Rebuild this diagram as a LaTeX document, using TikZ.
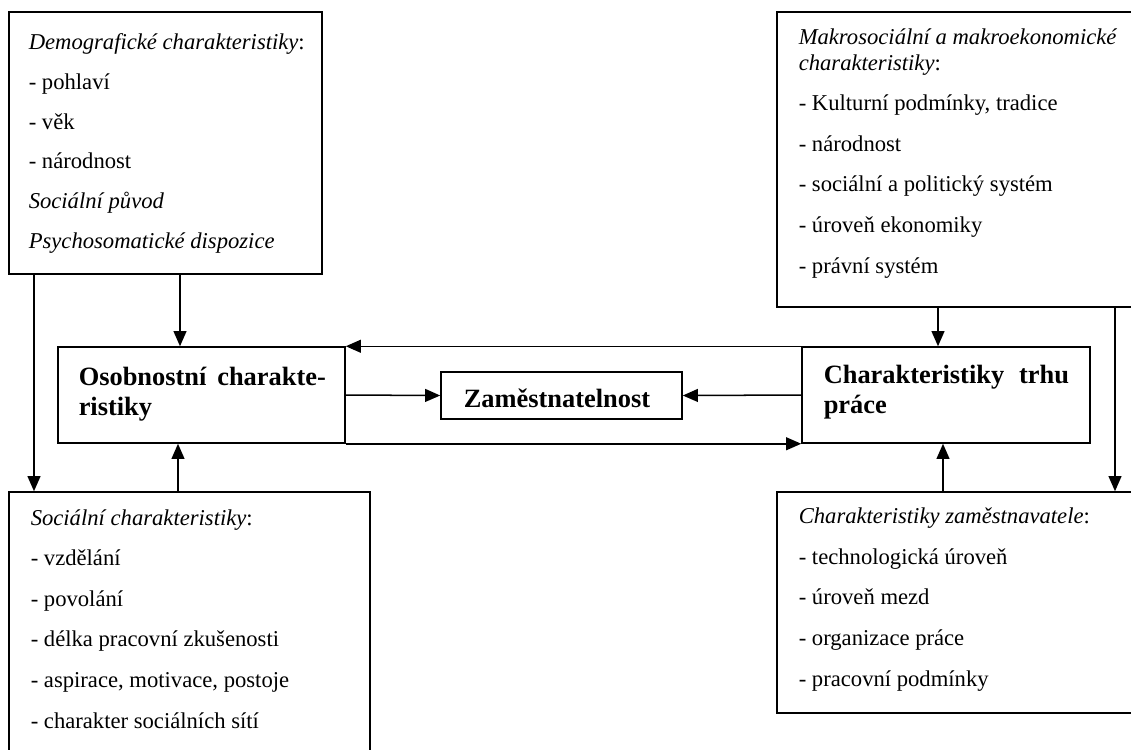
\documentclass[tikz,border=0pt]{standalone}
\usepackage{fontspec}
\setmainfont{Liberation Serif}
\usetikzlibrary{arrows.meta,fit}
\tikzset{
	ramec/.style={draw,inner sep=0pt,fit={#1}},
	seznam/.style={anchor=base west,inner sep=0pt,align=left,font=\fontsize{12}{13.8}\selectfont},
	hlavni/.style={anchor=base west,inner sep=0pt,align=left,text width=#1,font=\fontsize{14}{15.9}\selectfont\bfseries},
}
\begin{document}
\begin{tikzpicture}[x=0.53pt,y=-0.53pt,line width=0.8pt,>={Triangle[length=8pt,width=6.8pt]}]
	\useasboundingbox (0,0) rectangle (1131,749);
	\clip (0,0) rectangle (1131,749);
	% ramecky
	\node[ramec={(9,12) (322,274)}] (demo) {};
	\node[ramec={(777,12) (1140,307)}] (makro) {};
	\node[ramec={(58,347) (345,443)}] (osob) {};
	\node[ramec={(441,372) (682,419)}] (zam) {};
	\node[ramec={(802,347) (1090,443)}] (trh) {};
	\node[ramec={(9,492) (370,760)}] (soc) {};
	\node[ramec={(777,492) (1140,713)}] (zamest) {};
	% texty (seznam: poloha = uctaij posledniho radku)
	\path
	(28,248) node[seznam] (demotxt) {\textit{Demografické charakteristiky}:\\[7.2pt]
		- pohlaví\\[7.2pt] - věk\\[7.2pt] - národnost\\[7.2pt]
		\textit{Sociální původ}\\[7.2pt] \textit{Psychosomatické dispozice}}
	(798,273) node[seznam] (makrotxt) {\textit{Makrosociální a makroekonomické}\\
		\textit{charakteristiky}:\\[7.7pt] - Kulturní podmínky, tradice\\[7.7pt]
		- národnost\\[7.7pt] - sociální a politický systém\\[7.7pt]
		- úroveň ekonomiky\\[7.7pt] - právní systém}
	(30,728) node[seznam] (soctxt) {\textit{Sociální charakteristiky}:\\[7.7pt]
		- vzdělání\\[7.7pt] - povolání\\[7.7pt] - délka pracovní zkušenosti\\[7.7pt]
		- aspirace, motivace, postoje\\[7.7pt] - charakter sociálních sítí}
	(798,686) node[seznam] (zamesttxt) {\textit{Charakteristiky zaměstnavatele}:\\[7.7pt]
		- technologická úroveň\\[7.7pt] - úroveň mezd\\[7.7pt]
		- organizace práce\\[7.7pt] - pracovní podmínky}
	(78,385) node[hlavni=131pt] (osobtxt) {Osobnostní\hfill charakte-\\ristiky}
	(823,383) node[hlavni=130pt] (trhtxt) {Charakteristiky\hfill trhu\\práce}
	(463,407) node[hlavni=100pt] (zamtxt) {Zaměstnatelnost}
	;
	% sipky
	\draw[->] (demo.south -| 180,0) -- (osob.north -| 180,0);
	\draw[->] (demo.south -| 34,0) -- (soc.north -| 34,0);
	\draw[->] (soc.north -| 178,0) -- (osob.south -| 178,0);
	\draw[->] (osob.east) -- (zam.west);
	\draw[->] (trh.west) -- (zam.east);
	\draw[->] (trh.north west) -- (osob.north east);
	\draw[->] (osob.south east) -- (trh.south west);
	\draw[->] (makro.south -| 938,0) -- (trh.north -| 938,0);
	\draw[->] (zamest.north -| 943,0) -- (trh.south -| 943,0);
	\draw[->] (makro.south -| 1115,0) -- (zamest.north -| 1115,0);
\end{tikzpicture}
\end{document}
